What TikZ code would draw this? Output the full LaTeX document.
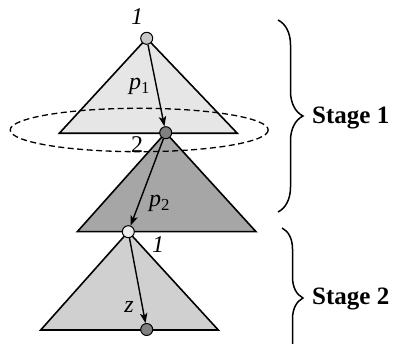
\documentclass[tikz,border=0pt]{standalone}
\usepackage{fontspec}
\setmainfont{Liberation Serif}
\usetikzlibrary{arrows.meta,decorations.pathreplacing}
\definecolor{triA}{RGB}{230,230,230}
\definecolor{triB}{RGB}{166,166,166}
\definecolor{triC}{RGB}{208,208,208}
\definecolor{dotA}{RGB}{200,200,200}
\definecolor{dotB}{RGB}{128,128,128}
\definecolor{dotC}{RGB}{236,236,236}
\tikzset{
  tri/.style={draw=black,line width=1.6pt,line join=miter},
  dot/.style={circle,draw=black,line width=1pt,minimum size=12pt,inner sep=0pt},
  arr/.style={line width=1.4pt,-{Stealth[length=10pt,width=7.5pt,inset=2.5pt]}},
  lbl/.style={font=\fontsize{24}{28}\selectfont,inner sep=0pt},
  stage/.style={font=\fontsize{25}{29}\selectfont\bfseries,inner sep=0pt,anchor=base west},
  brc/.style={decorate,line width=1.5pt},
}
\begin{document}
\begin{tikzpicture}[x=1pt,y=-1pt]
\useasboundingbox (0,0) rectangle (393,344);
\clip (0,0) rectangle (393,344);
% triangles
\fill[triA] (146.7,38.3) -- (59.3,133.3) -- (237.3,133.3) -- cycle;
\draw[tri] (146.7,38.3) -- (59.3,133.3) -- (237.3,133.3) -- cycle;
\fill[triB] (165.7,132.7) -- (77.3,231.7) -- (256,231.7) -- cycle;
\draw[tri] (165.7,132.7) -- (77.3,231.7) -- (256,231.7) -- cycle;
\fill[triC] (128.3,231.7) -- (40.7,330) -- (218.3,330) -- cycle;
\draw[tri] (128.3,231.7) -- (40.7,330) -- (218.3,330) -- cycle;
% dashed ellipse
\draw[line width=1.3pt,dash pattern=on 6pt off 3.5pt] (139.2,130) ellipse [x radius=129,y radius=21.7];
% dots
\node[dot,fill=dotA] (c1) at (146.7,38.3) {};
\node[dot,fill=dotB] (c2) at (165.7,132.7) {};
\node[dot,fill=dotC] (c3) at (128.3,231.7) {};
\node[dot,fill=dotB] (c4) at (146.7,329.5) {};
% arrows
\draw[arr] (c1) -- (c2);
\draw[arr] (c2) -- (c3);
\draw[arr] (c3) -- (c4);
% labels
\node[lbl,anchor=base] (l1) at (137,25) {\textit{1}};
\node[lbl,anchor=base west] (lp1) at (129,90) {\textit{p}\textsubscript{1}};
\node[lbl,anchor=base] (l2) at (137,153) {2};
\node[lbl,anchor=base west] (lp2) at (149,207) {\textit{p}\textsubscript{2}};
\node[lbl,anchor=base] (l1b) at (158,253) {\textit{1}};
\node[lbl,anchor=base] (lz) at (129,312) {\textit{z}};
% braces
\draw[brc,decoration={brace,amplitude=25pt}] (278,20) -- (278,212);
\draw[brc,decoration={brace,amplitude=21pt}] (282,228) -- (282,368);
\node[stage] (s1) at (312,124) {Stage 1};
\node[stage] (s2) at (312,304) {Stage 2};
\end{tikzpicture}
\end{document}
